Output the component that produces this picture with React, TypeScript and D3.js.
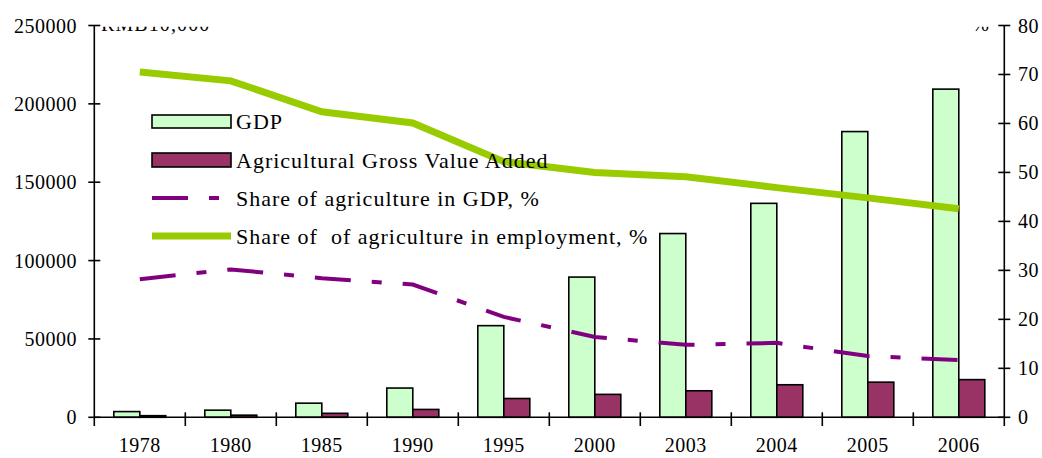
import * as d3 from "d3";

const years = ["1978", "1980", "1985", "1990", "1995", "2000", "2003", "2004", "2005", "2006"];
const gdp = [3645, 4545, 9016, 18668, 58478, 89468, 117252, 136515, 182321, 209407];
const agriValue = [1027, 1359, 2541, 5017, 11993, 14628, 16928, 20768, 22420, 24040];
const agriShareGdp = [28.2, 30.2, 28.4, 27.1, 20.5, 16.4, 14.8, 15.2, 12.5, 11.7];
const agriShareEmp = [70.5, 68.7, 62.4, 60.1, 52.2, 50.0, 49.1, 46.9, 44.8, 42.6];
const leftTicks = [0, 50000, 100000, 150000, 200000, 250000];
const rightTicks = [0, 10, 20, 30, 40, 50, 60, 70, 80];

const W = 1042;
const H = 458;
const xLeft = 94.3;
const xRight = 1004.3;
const yBottom = 417.3;
const yTop = 25.5;

const gdpColor = "#CCFFCC";
const agriColor = "#993366";
const purple = "#800080";
const green = "#99CC00";
const serif = '"Liberation Serif", "DejaVu Serif", serif';
const tickStyle = { fontFamily: serif, fontSize: "20px", letterSpacing: "0.5px" };
const legendStyle = { fontFamily: serif, fontSize: "22px", letterSpacing: "1px" };

export default function App() {
  const xScale = d3.scaleBand().domain(years).range([xLeft, xRight]).padding(0);
  const yLeft = d3.scaleLinear().domain([0, 250000]).range([yBottom, yTop]);
  const yRight = d3.scaleLinear().domain([0, 80]).range([yBottom, yTop]);
  const barW = 26;
  const cx = (y: string) => (xScale(y) as number) + xScale.bandwidth() / 2;

  const line = d3
    .line<number>()
    .x((_, i) => cx(years[i]))
    .y((d) => yRight(d));

  const boundaries = years.slice(1).map((y) => xScale(y) as number);

  return (
    <svg
      width={W}
      height={H}
      style={{ position: "absolute", left: 0, top: 0, background: "#fff" }}
    >
      <defs>
        <clipPath id="topclip">
          <rect x={0} y={26.7} width={W} height={H} />
        </clipPath>
      </defs>

      {/* unit labels, cut off at the top like the original */}
      <g clipPath="url(#topclip)" style={{ fontFamily: serif, fontSize: "20px", letterSpacing: "1.1px" }} fill="#000">
        <text x={101} y={31}>RMB10,000</text>
        <text x={990} y={31} textAnchor="end">%</text>
      </g>

      {/* bars */}
      {years.map((y, i) => (
        <g key={y}>
          <rect
            x={cx(y) - barW}
            y={yLeft(gdp[i])}
            width={barW}
            height={yBottom - yLeft(gdp[i])}
            fill={gdpColor}
            stroke="#000"
            strokeWidth={1.6}
          />
          <rect
            x={cx(y)}
            y={yLeft(agriValue[i])}
            width={barW}
            height={yBottom - yLeft(agriValue[i])}
            fill={agriColor}
            stroke="#000"
            strokeWidth={1.6}
          />
        </g>
      ))}

      {/* axes */}
      <g stroke="#000" strokeWidth={1.6}>
        <line x1={xLeft} y1={yTop} x2={xLeft} y2={426} />
        <line x1={xRight} y1={yTop} x2={xRight} y2={426} />
        <line x1={xLeft} y1={yBottom} x2={xRight} y2={yBottom} />
        {leftTicks.map((t) => (
          <line key={"l" + t} x1={xLeft - 6} x2={xLeft + 6} y1={yLeft(t)} y2={yLeft(t)} />
        ))}
        {rightTicks.map((t) => (
          <line key={"r" + t} x1={xRight - 6} x2={xRight + 6} y1={yRight(t)} y2={yRight(t)} />
        ))}
        {boundaries.map((b) => (
          <line key={"b" + b} x1={b} x2={b} y1={yBottom - 5} y2={426} />
        ))}
      </g>

      <g style={tickStyle} fill="#000">
        {leftTicks.map((t) => (
          <text key={"lt" + t} x={77} y={yLeft(t)} dy="0.35em" textAnchor="end">
            {t}
          </text>
        ))}
        {rightTicks.map((t) => (
          <text key={"rt" + t} x={1018} y={yRight(t)} dy="0.35em">
            {t}
          </text>
        ))}
        {years.map((y) => (
          <text key={"x" + y} x={cx(y)} y={452} textAnchor="middle">
            {y}
          </text>
        ))}
      </g>

      {/* lines */}
      <path
        d={line(agriShareEmp) as string}
        fill="none"
        stroke={green}
        strokeWidth={7}
      />
      <path
        d={line(agriShareGdp) as string}
        fill="none"
        stroke={purple}
        strokeWidth={4}
        strokeDasharray="36,21,10,21"
      />

      {/* legend */}
      <g style={legendStyle} fill="#000">
        <rect x={152} y={115} width={79} height={13} fill={gdpColor} stroke="#000" strokeWidth={1.6} />
        <text x={236} y={129}>GDP</text>
        <rect x={152} y={153} width={79} height={14} fill={agriColor} stroke="#000" strokeWidth={1.6} />
        <text x={236} y={168}>Agricultural Gross Value Added</text>
        <line x1={152} x2={231} y1={198} y2={198} stroke={purple} strokeWidth={4} strokeDasharray="36,21,10,21" />
        <text x={236} y={206}>Share of agriculture in GDP, %</text>
        <line x1={152} x2={231} y1={236} y2={236} stroke={green} strokeWidth={7} />
        <text x={236} y={244} xmlSpace="preserve" style={{ whiteSpace: "pre" }}>
          {"Share of  of agriculture in employment, %"}
        </text>
      </g>
    </svg>
  );
}
